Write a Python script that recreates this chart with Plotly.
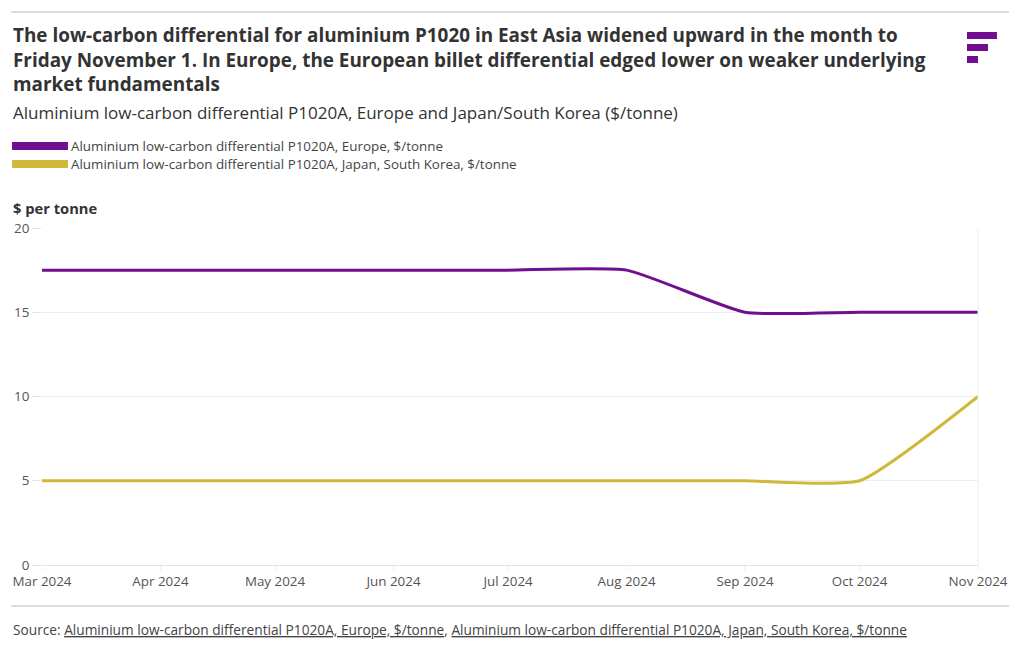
import plotly.graph_objects as go

months = ["2024-03-01", "2024-04-01", "2024-05-01", "2024-06-01", "2024-07-01",
          "2024-08-01", "2024-09-01", "2024-10-01", "2024-11-01"]
europe = [17.5, 17.5, 17.5, 17.5, 17.5, 17.5, 15, 15, 15]
japan_korea = [5, 5, 5, 5, 5, 5, 5, 5, 10]
tick_labels = ["Mar 2024", "Apr 2024", "May 2024", "Jun 2024", "Jul 2024",
               "Aug 2024", "Sep 2024", "Oct 2024", "Nov 2024"]
name_eu = "Aluminium low-carbon differential P1020A, Europe, $/tonne"
name_jk = "Aluminium low-carbon differential P1020A, Japan, South Korea, $/tonne"

PURPLE = "#6f0f8f"
GOLD = "#cfb83a"
W, H = 1020, 650
L, R, T, B = 41, 979, 228, 565
PW, PH = R - L, B - T
FONT = "'Open Sans', Lato, sans-serif"


def xp(px):
    return (px - L) / PW


def yp(py):
    return (B - py) / PH


fig = go.Figure()
fig.add_trace(go.Scatter(x=months, y=europe, name=name_eu, mode="lines",
                         line=dict(color=PURPLE, width=3, shape="spline", smoothing=0.5)))
fig.add_trace(go.Scatter(x=months, y=japan_korea, name=name_jk, mode="lines",
                         line=dict(color=GOLD, width=3, shape="spline", smoothing=0.5)))

shapes = []
annotations = []

# top and bottom rules
for y in (12, 606):
    shapes.append(dict(type="line", xref="paper", yref="paper", x0=xp(10), x1=xp(1010),
                       y0=yp(y), y1=yp(y), line=dict(color="#dcdcdc", width=2)))

# logo
for (x0, x1, y0, y1) in [(968, 998, 32, 39), (968, 989, 44, 51), (968, 979, 56, 63)]:
    shapes.append(dict(type="rect", xref="paper", yref="paper", x0=xp(x0), x1=xp(x1),
                       y0=yp(y0), y1=yp(y1), fillcolor=PURPLE, line=dict(width=0),
                       layer="above"))

# legend bars
for (yc, col) in [(146, PURPLE), (164, GOLD)]:
    shapes.append(dict(type="rect", xref="paper", yref="paper", x0=xp(11), x1=xp(67),
                       y0=yp(yc - 4), y1=yp(yc + 4), fillcolor=col, line=dict(width=0)))

# faint right border of plot
shapes.append(dict(type="line", xref="paper", yref="paper", x0=1, x1=1, y0=0, y1=1,
                   line=dict(color="#efefef", width=1)))

title = ("The low-carbon differential for aluminium P1020 in East Asia widened upward in the month to<br>"
         "Friday November 1. In Europe, the European billet differential edged lower on weaker underlying<br>"
         "market fundamentals")
annotations.append(dict(text="<b>" + title + "</b>", xref="paper", yref="paper",
                        x=xp(10), y=yp(59.5), xanchor="left", yanchor="middle", showarrow=False,
                        align="left", font=dict(family=FONT, size=18.9, color="#333333")))
annotations.append(dict(text="Aluminium low-carbon differential P1020A, Europe and Japan/South Korea ($/tonne)",
                        xref="paper", yref="paper", x=xp(10), y=yp(112), xanchor="left",
                        yanchor="middle", showarrow=False,
                        font=dict(family=FONT, size=17, color="#333333")))
for (yc, nm) in [(146, name_eu), (164, name_jk)]:
    annotations.append(dict(text=nm, xref="paper", yref="paper", x=xp(68), y=yp(yc),
                            xanchor="left", yanchor="middle", showarrow=False,
                            font=dict(family=FONT, size=13.4, color="#444444")))
annotations.append(dict(text="<b>$ per tonne</b>", xref="paper", yref="paper", x=xp(10),
                        y=yp(208), xanchor="left", yanchor="middle", showarrow=False,
                        font=dict(family=FONT, size=14.7, color="#333333")))
annotations.append(dict(text="Source: <u>" + name_eu + "</u>, <u>" + name_jk + "</u>",
                        xref="paper", yref="paper", x=xp(10), y=yp(629), xanchor="left",
                        yanchor="middle", showarrow=False,
                        font=dict(family=FONT, size=13.7, color="#444444")))

fig.update_layout(
    width=W, height=H,
    margin=dict(l=L, r=W - R, t=T, b=H - B),
    paper_bgcolor="white", plot_bgcolor="white",
    showlegend=False,
    shapes=shapes, annotations=annotations,
    font=dict(family=FONT, size=13, color="#555555"),
)
fig.update_xaxes(
    type="date", range=[months[0], months[-1]],
    tickvals=months, ticktext=tick_labels,
    showgrid=False, zeroline=False, showline=False,
    ticks="outside", ticklen=4, tickcolor="#eeeeee",
    tickfont=dict(family=FONT, size=13.4, color="#555555"),
)
fig.update_yaxes(
    range=[0, 20], tickvals=[0, 5, 10, 15, 20],
    showgrid=True, gridcolor="#ececec", gridwidth=1,
    zeroline=True, zerolinecolor="#e4e4e4", zerolinewidth=1,
    showline=False, ticks="outside", ticklen=9, tickcolor="#e4e4e4",
    tickfont=dict(family=FONT, size=13.4, color="#555555"),
)

fig.write_html("out.html", config={"displayModeBar": False},
               post_script="document.body.style.margin='0';")
